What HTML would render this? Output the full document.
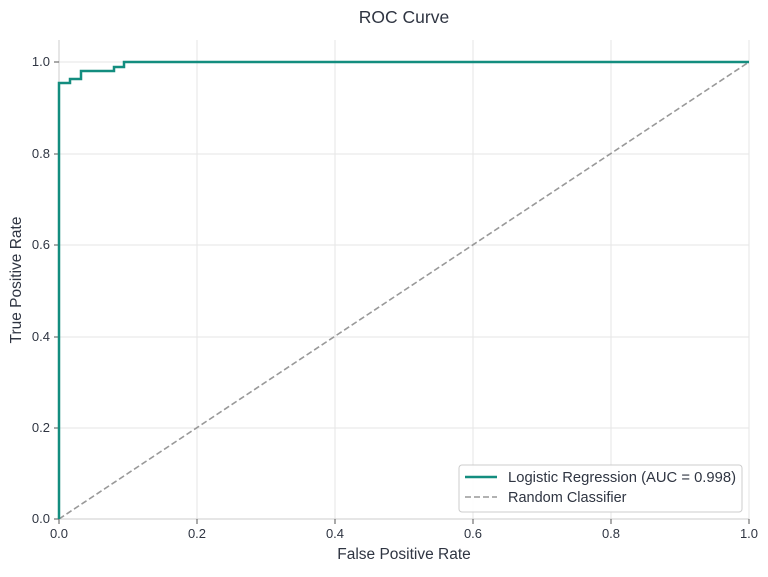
<!DOCTYPE html>
<html><head><style>body{margin:0;background:#fff}</style></head><body>
<svg width="768" height="572" xmlns="http://www.w3.org/2000/svg" font-family="Liberation Sans, DejaVu Sans, sans-serif" fill="#2f3542">
<rect width="768" height="572" fill="#fff"/>
<g stroke="#e6e6e6" stroke-width="1">
<line x1="197" y1="40" x2="197" y2="519"/><line x1="335" y1="40" x2="335" y2="519"/><line x1="473" y1="40" x2="473" y2="519"/><line x1="611" y1="40" x2="611" y2="519"/><line x1="749" y1="40" x2="749" y2="519"/>
<line x1="59" y1="428" x2="749" y2="428"/><line x1="59" y1="337" x2="749" y2="337"/><line x1="59" y1="245" x2="749" y2="245"/><line x1="59" y1="154" x2="749" y2="154"/><line x1="59" y1="62" x2="749" y2="62"/>
</g>
<g stroke="#ccc" stroke-width="1"><line x1="59" y1="40" x2="59" y2="519"/><line x1="59" y1="519" x2="749" y2="519"/></g>
<g stroke="#555" stroke-width="1">
<line x1="59" y1="519" x2="59" y2="524"/><line x1="197" y1="519" x2="197" y2="524"/><line x1="335" y1="519" x2="335" y2="524"/><line x1="473" y1="519" x2="473" y2="524"/><line x1="611" y1="519" x2="611" y2="524"/><line x1="749" y1="519" x2="749" y2="524"/>
<line x1="54" y1="519" x2="59" y2="519"/><line x1="54" y1="428" x2="59" y2="428"/><line x1="54" y1="337" x2="59" y2="337"/><line x1="54" y1="245" x2="59" y2="245"/><line x1="54" y1="154" x2="59" y2="154"/><line x1="54" y1="62" x2="59" y2="62"/>
</g>
<g font-size="13" text-anchor="middle">
<text x="59" y="538">0.0</text><text x="197" y="538">0.2</text><text x="335" y="538">0.4</text><text x="473" y="538">0.6</text><text x="611" y="538">0.8</text><text x="749" y="538">1.0</text>
</g>
<g font-size="13" text-anchor="end">
<text x="50" y="523">0.0</text><text x="50" y="432">0.2</text><text x="50" y="341">0.4</text><text x="50" y="249">0.6</text><text x="50" y="158">0.8</text><text x="50" y="66">1.0</text>
</g>
<text x="404" y="559" font-size="15.5" text-anchor="middle">False Positive Rate</text>
<text transform="translate(21,280) rotate(-90)" font-size="15.5" text-anchor="middle">True Positive Rate</text>
<text x="404" y="23" font-size="17.5" text-anchor="middle">ROC Curve</text>
<line x1="59" y1="519" x2="749" y2="62" stroke="#999" stroke-width="1.6" stroke-dasharray="6,3"/>
<polyline fill="none" stroke="#138d7f" stroke-width="2.5" points="59,519 59,83 70,83 70,79 81,79 81,71 114,71 114,67 124,67 124,62 749,62"/>
<rect x="459" y="465" width="283" height="47" rx="3" fill="#fff" fill-opacity="0.9" stroke="#ccc"/>
<line x1="465" y1="477" x2="497" y2="477" stroke="#138d7f" stroke-width="2.5"/>
<line x1="465" y1="497" x2="497" y2="497" stroke="#999" stroke-width="1.6" stroke-dasharray="6,3"/>
<text x="508" y="482" font-size="14.5" textLength="228" lengthAdjust="spacingAndGlyphs">Logistic Regression (AUC = 0.998)</text>
<text x="508" y="502" font-size="14.5">Random Classifier</text>
</svg>
</body></html>
